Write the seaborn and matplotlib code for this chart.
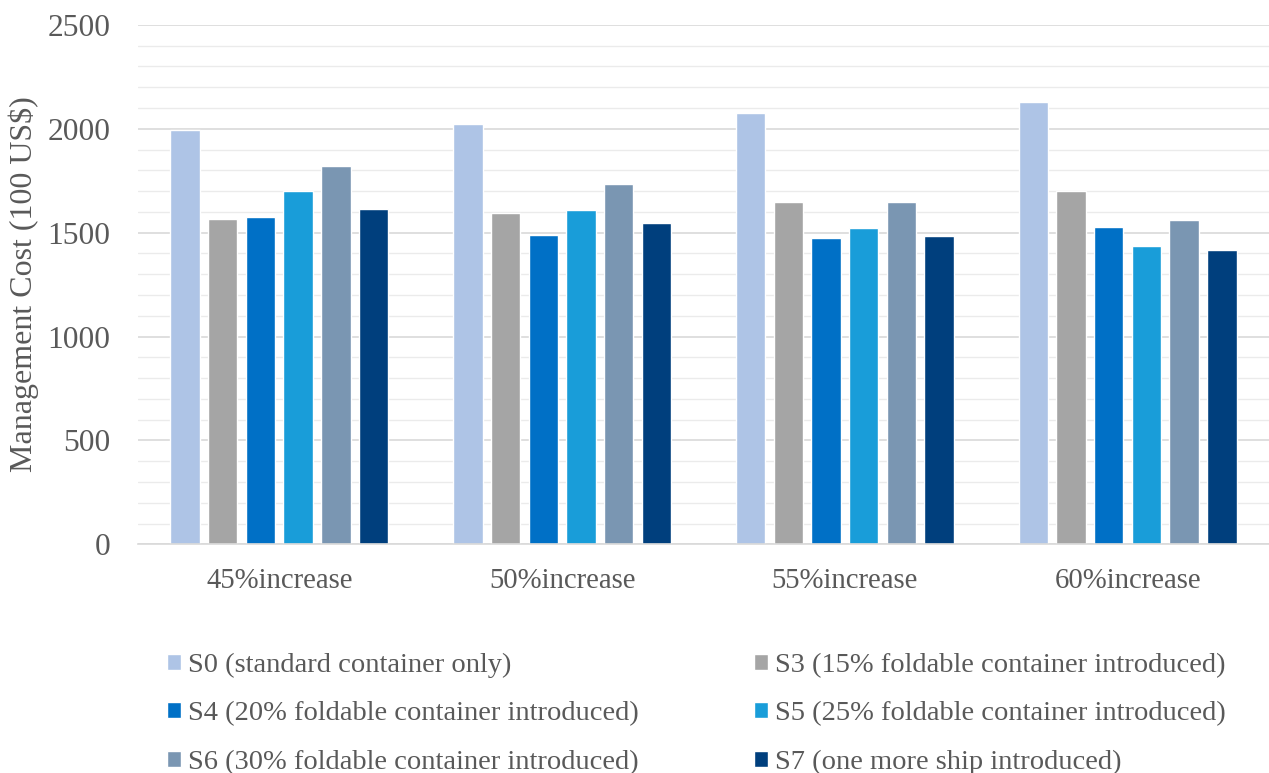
import matplotlib
matplotlib.use("Agg")
import matplotlib.pyplot as plt
import seaborn as sns
import pandas as pd
from matplotlib.ticker import MultipleLocator

# Cost scenarios (management cost, in 100 US$) under four demand increases
categories = ["45%increase", "50%increase", "55%increase", "60%increase"]
scenarios = [
    "S0 (standard container only)",
    "S3 (15% foldable container introduced)",
    "S4 (20% foldable container introduced)",
    "S5 (25% foldable container introduced)",
    "S6 (30% foldable container introduced)",
    "S7 (one more ship introduced)",
]
s0 = [1995, 2024, 2077, 2128]
s3 = [1566, 1596, 1649, 1702]
s4 = [1574, 1487, 1476, 1529]
s5 = [1699, 1609, 1522, 1436]
s6 = [1822, 1736, 1649, 1563]
s7 = [1614, 1546, 1482, 1418]
colors = ["#AEC4E6", "#A5A5A5", "#0070C6", "#199DD9", "#7A96B2", "#003F7D"]

series = [s0, s3, s4, s5, s6, s7]
rows = []
for name, vals in zip(scenarios, series):
    for cat, v in zip(categories, vals):
        rows.append({"category": cat, "scenario": name, "cost": v})
df = pd.DataFrame(rows)

sns.set_theme(style="white")
plt.rcParams["font.family"] = ["Liberation Serif", "DejaVu Serif"]

fig = plt.figure(figsize=(12.69, 7.73), dpi=100)
ax = fig.add_axes([0.1087, 0.2958, 0.8913, 0.672])

sns.barplot(data=df, x="category", y="cost", hue="scenario",
            hue_order=scenarios, palette=colors, order=categories,
            width=0.8, gap=0.22, saturation=1, ax=ax, legend=True)

ax.set_ylim(0, 2500)
ax.set_xlim(-0.5, 3.5)
ax.yaxis.set_major_locator(MultipleLocator(500))
ax.yaxis.set_minor_locator(MultipleLocator(100))
ax.grid(axis="y", which="major", color="#d9d9d9", linewidth=1.2)
ax.grid(axis="y", which="minor", color="#ebebeb", linewidth=1.0)
ax.set_axisbelow(True)
for side in ["top", "right", "left"]:
    ax.spines[side].set_visible(False)
ax.spines["bottom"].set_color("#d9d9d9")
ax.spines["bottom"].set_linewidth(1.2)

ax.tick_params(axis="y", which="both", length=0, pad=20, labelsize=22.7,
               labelcolor="#595959")
ax.tick_params(axis="x", length=0, pad=17, labelsize=20.7, labelcolor="#595959")
ax.set_xlabel("")
ax.set_ylabel("Management Cost (100 US\\$)", fontsize=23, color="#595959",
              labelpad=6)

handles, labels = ax.get_legend_handles_labels()
ax.get_legend().remove()
order = [0, 2, 4, 1, 3, 5]
fig.legend([handles[i] for i in order], [labels[i] for i in order],
           ncol=2, loc="upper left", bbox_to_anchor=(0.1225, 0.1705),
           frameon=False, fontsize=20.5, labelcolor="#595959",
           handlelength=0.49, handleheight=0.49, handletextpad=0.25,
           columnspacing=4.05, labelspacing=0.83, borderaxespad=0)

fig.savefig("out.png", dpi=100)
